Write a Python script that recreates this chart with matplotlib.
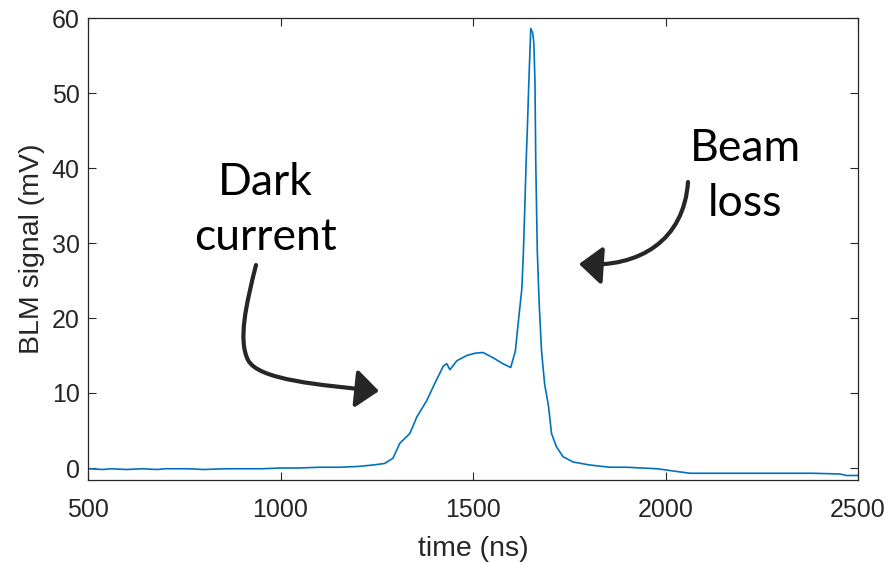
import numpy as np
import matplotlib
matplotlib.use("Agg")
import matplotlib.pyplot as plt
from matplotlib.patches import FancyArrowPatch
from matplotlib.path import Path

# trace (time in ns, signal in mV)
time_ns = [500, 540, 560, 600, 640, 680, 700, 760, 800, 860, 900, 950, 1000,
           1050, 1100, 1150, 1200, 1240, 1270, 1292, 1310, 1336, 1354, 1380,
           1400, 1423, 1432, 1440, 1458, 1484, 1505, 1526, 1552, 1578, 1598,
           1610, 1618, 1627, 1631, 1635, 1638, 1641, 1645, 1650, 1655, 1658,
           1661, 1663, 1667, 1672, 1678, 1686, 1696, 1704, 1717, 1734, 1760,
           1803, 1856, 1900, 1978, 2020, 2064, 2150, 2230, 2305, 2380, 2453,
           2470, 2500]
signal_mv = [-0.1, -0.2, -0.1, -0.2, -0.1, -0.2, -0.1, -0.1, -0.2, -0.1, -0.1,
             -0.1, 0.0, 0.0, 0.1, 0.1, 0.2, 0.4, 0.6, 1.3, 3.3, 4.6, 6.8, 9.0,
             11.2, 13.6, 13.9, 13.1, 14.3, 15.0, 15.3, 15.4, 14.7, 13.9, 13.4,
             15.6, 19.6, 24.0, 28.9, 35.5, 40.8, 45.0, 51.4, 58.6, 58.0, 56.7,
             51.4, 40.8, 28.9, 21.8, 15.6, 11.2, 8.3, 4.6, 2.8, 1.5, 0.8, 0.4,
             0.1, 0.1, -0.1, -0.4, -0.7, -0.7, -0.7, -0.7, -0.7, -0.8, -1.0,
             -1.0]

x_ticks = [500, 1000, 1500, 2000, 2500]
y_ticks = [0, 10, 20, 30, 40, 50, 60]

plt.rcParams['font.family'] = ['Liberation Sans', 'DejaVu Sans']
ink = '#262626'
W, H = 890, 562

fig = plt.figure(figsize=(W/100, H/100), dpi=100)
ax = fig.add_axes([88/W, 1-480/H, 770/W, 462/H])

ax.plot(time_ns, signal_mv, color='#0072BD', lw=1.2)

ax.set_xlim(500, 2500)
ax.set_ylim(-1.6, 60)
ax.set_xticks(x_ticks)
ax.set_yticks(y_ticks)
ax.tick_params(direction='in', length=6, width=0.8, colors=ink, labelsize=18,
               top=True, right=True, labeltop=False, labelright=False)
ax.tick_params(axis='x', pad=13)
ax.tick_params(axis='y', pad=6)
for s in ax.spines.values():
    s.set_color(ink)
    s.set_linewidth(0.9)
ax.set_xlabel('time (ns)', fontsize=20.5, color=ink, labelpad=10)
ax.set_ylabel('BLM signal (mV)', fontsize=20.5, color=ink, labelpad=5)

# annotations, positions in image pixels (y down)
txt = dict(fontsize=32, family=['Lato', 'DejaVu Sans'], color='black',
           ha='center', va='center', linespacing=1.4)
fig.text(265/W, 1-210/H, 'Dark\ncurrent', **txt)
fig.text(745/W, 1-176/H, 'Beam\nloss', **txt)


def curved_arrow(pts, codes):
    verts = [(x/W, 1-y/H) for x, y in pts]
    arr = FancyArrowPatch(path=Path(verts, codes),
                          arrowstyle='-|>,head_length=0.7,head_width=0.58',
                          mutation_scale=20, color=ink, lw=3.0,
                          transform=fig.transFigure)
    fig.add_artist(arr)


C = Path.CURVE4
curved_arrow([(256, 265), (246, 305), (238, 340), (248, 360),
              (258, 380), (320, 385), (379, 391)],
             [Path.MOVETO, C, C, C, C, C, C])
curved_arrow([(688, 182), (684, 240), (640, 268), (579, 264)],
             [Path.MOVETO, C, C, C])

fig.savefig('out.png', dpi=100)
